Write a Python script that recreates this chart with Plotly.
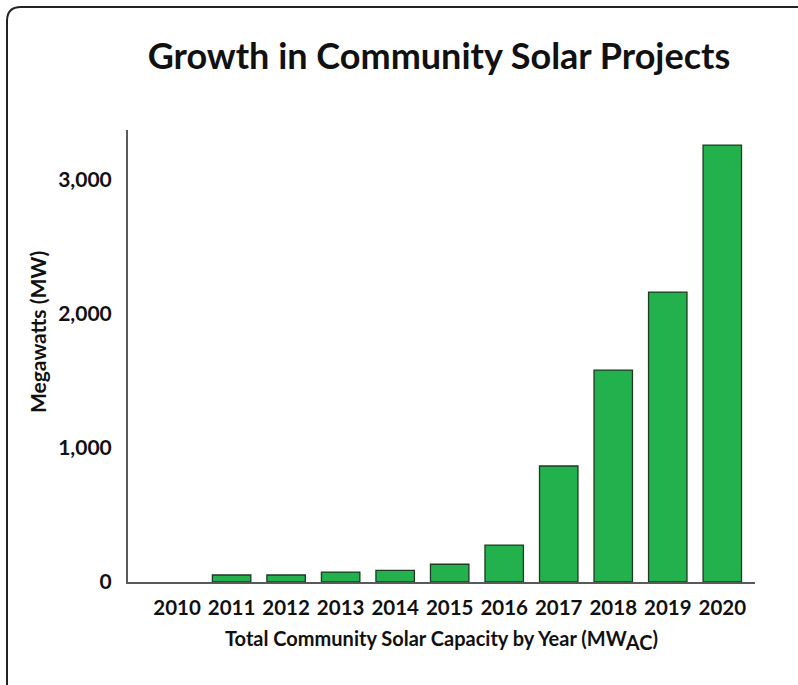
import plotly.graph_objects as go

years = ["2010", "2011", "2012", "2013", "2014", "2015", "2016", "2017", "2018", "2019", "2020"]
capacity_mw = [0, 52, 52, 74, 87, 132, 275, 864, 1578, 2159, 3254]
y_tick_vals = [0, 1000, 2000, 3000]
y_tick_text = ["0", "1,000", "2,000", "3,000"]

W, H = 798, 685
L, R, T, B = 128, 43, 130, 103
pw, ph = W - L - R, H - T - B

def px(x):
    return (x - L) / pw

def py(y):
    return (H - B - y) / ph

FONT = "Lato"
INK = "#111111"

outline_w = [0 if v == 0 else 1.3 for v in capacity_mw]

fig = go.Figure(
    go.Bar(
        x=years,
        y=capacity_mw,
        marker=dict(color="#22B14C", line=dict(color="#1e3a22", width=outline_w)),
        width=0.705,
    )
)

frame = (f"M {px(7)} {py(720)} L {px(7)} {py(21)} Q {px(7)} {py(7)} {px(21)} {py(7)} "
         f"L {px(830)} {py(7)}")

fig.update_layout(
    width=W, height=H,
    margin=dict(l=L, r=R, t=T, b=B),
    paper_bgcolor="white", plot_bgcolor="white",
    showlegend=False,
    font=dict(family=FONT, color=INK),
    title=dict(
        text="<b>Growth in Community Solar Projects</b>",
        x=439 / W, xref="container", xanchor="center",
        y=1 - 56 / H, yref="container", yanchor="middle",
        font=dict(family=FONT, size=36, color=INK),
    ),
    xaxis=dict(
        type="category",
        range=[-0.9, 10.6],
        showline=True, linecolor="#5a5a5a", linewidth=2,
        showgrid=False, ticks="",
        tickfont=dict(family=FONT, size=20.5, color=INK, weight="bold"),
        ticklabelstandoff=6,
        title=dict(
            text="<b>Total Community Solar Capacity by Year (MW<sub><span style='font-size:20px'>AC</span></sub>)</b>",
            font=dict(family=FONT, size=20, color=INK),
            standoff=14,
        ),
    ),
    yaxis=dict(
        range=[0, 3366],
        showline=True, linecolor="#5a5a5a", linewidth=2,
        showgrid=False, zeroline=False, ticks="",
        tickvals=y_tick_vals, ticktext=y_tick_text,
        tickfont=dict(family=FONT, size=21, color=INK, weight="bold"),
        ticklabelstandoff=10,
    ),
    annotations=[dict(
        text="<b>Megawatts (MW)</b>",
        textangle=-90,
        x=px(37), y=py(332), xref="paper", yref="paper",
        xanchor="center", yanchor="middle", showarrow=False,
        font=dict(family=FONT, size=21, color=INK),
    )],
    shapes=[dict(type="path", path=frame, xref="paper", yref="paper",
                 line=dict(color="#222222", width=2), layer="above")],
)

fig.write_html("out.html")
